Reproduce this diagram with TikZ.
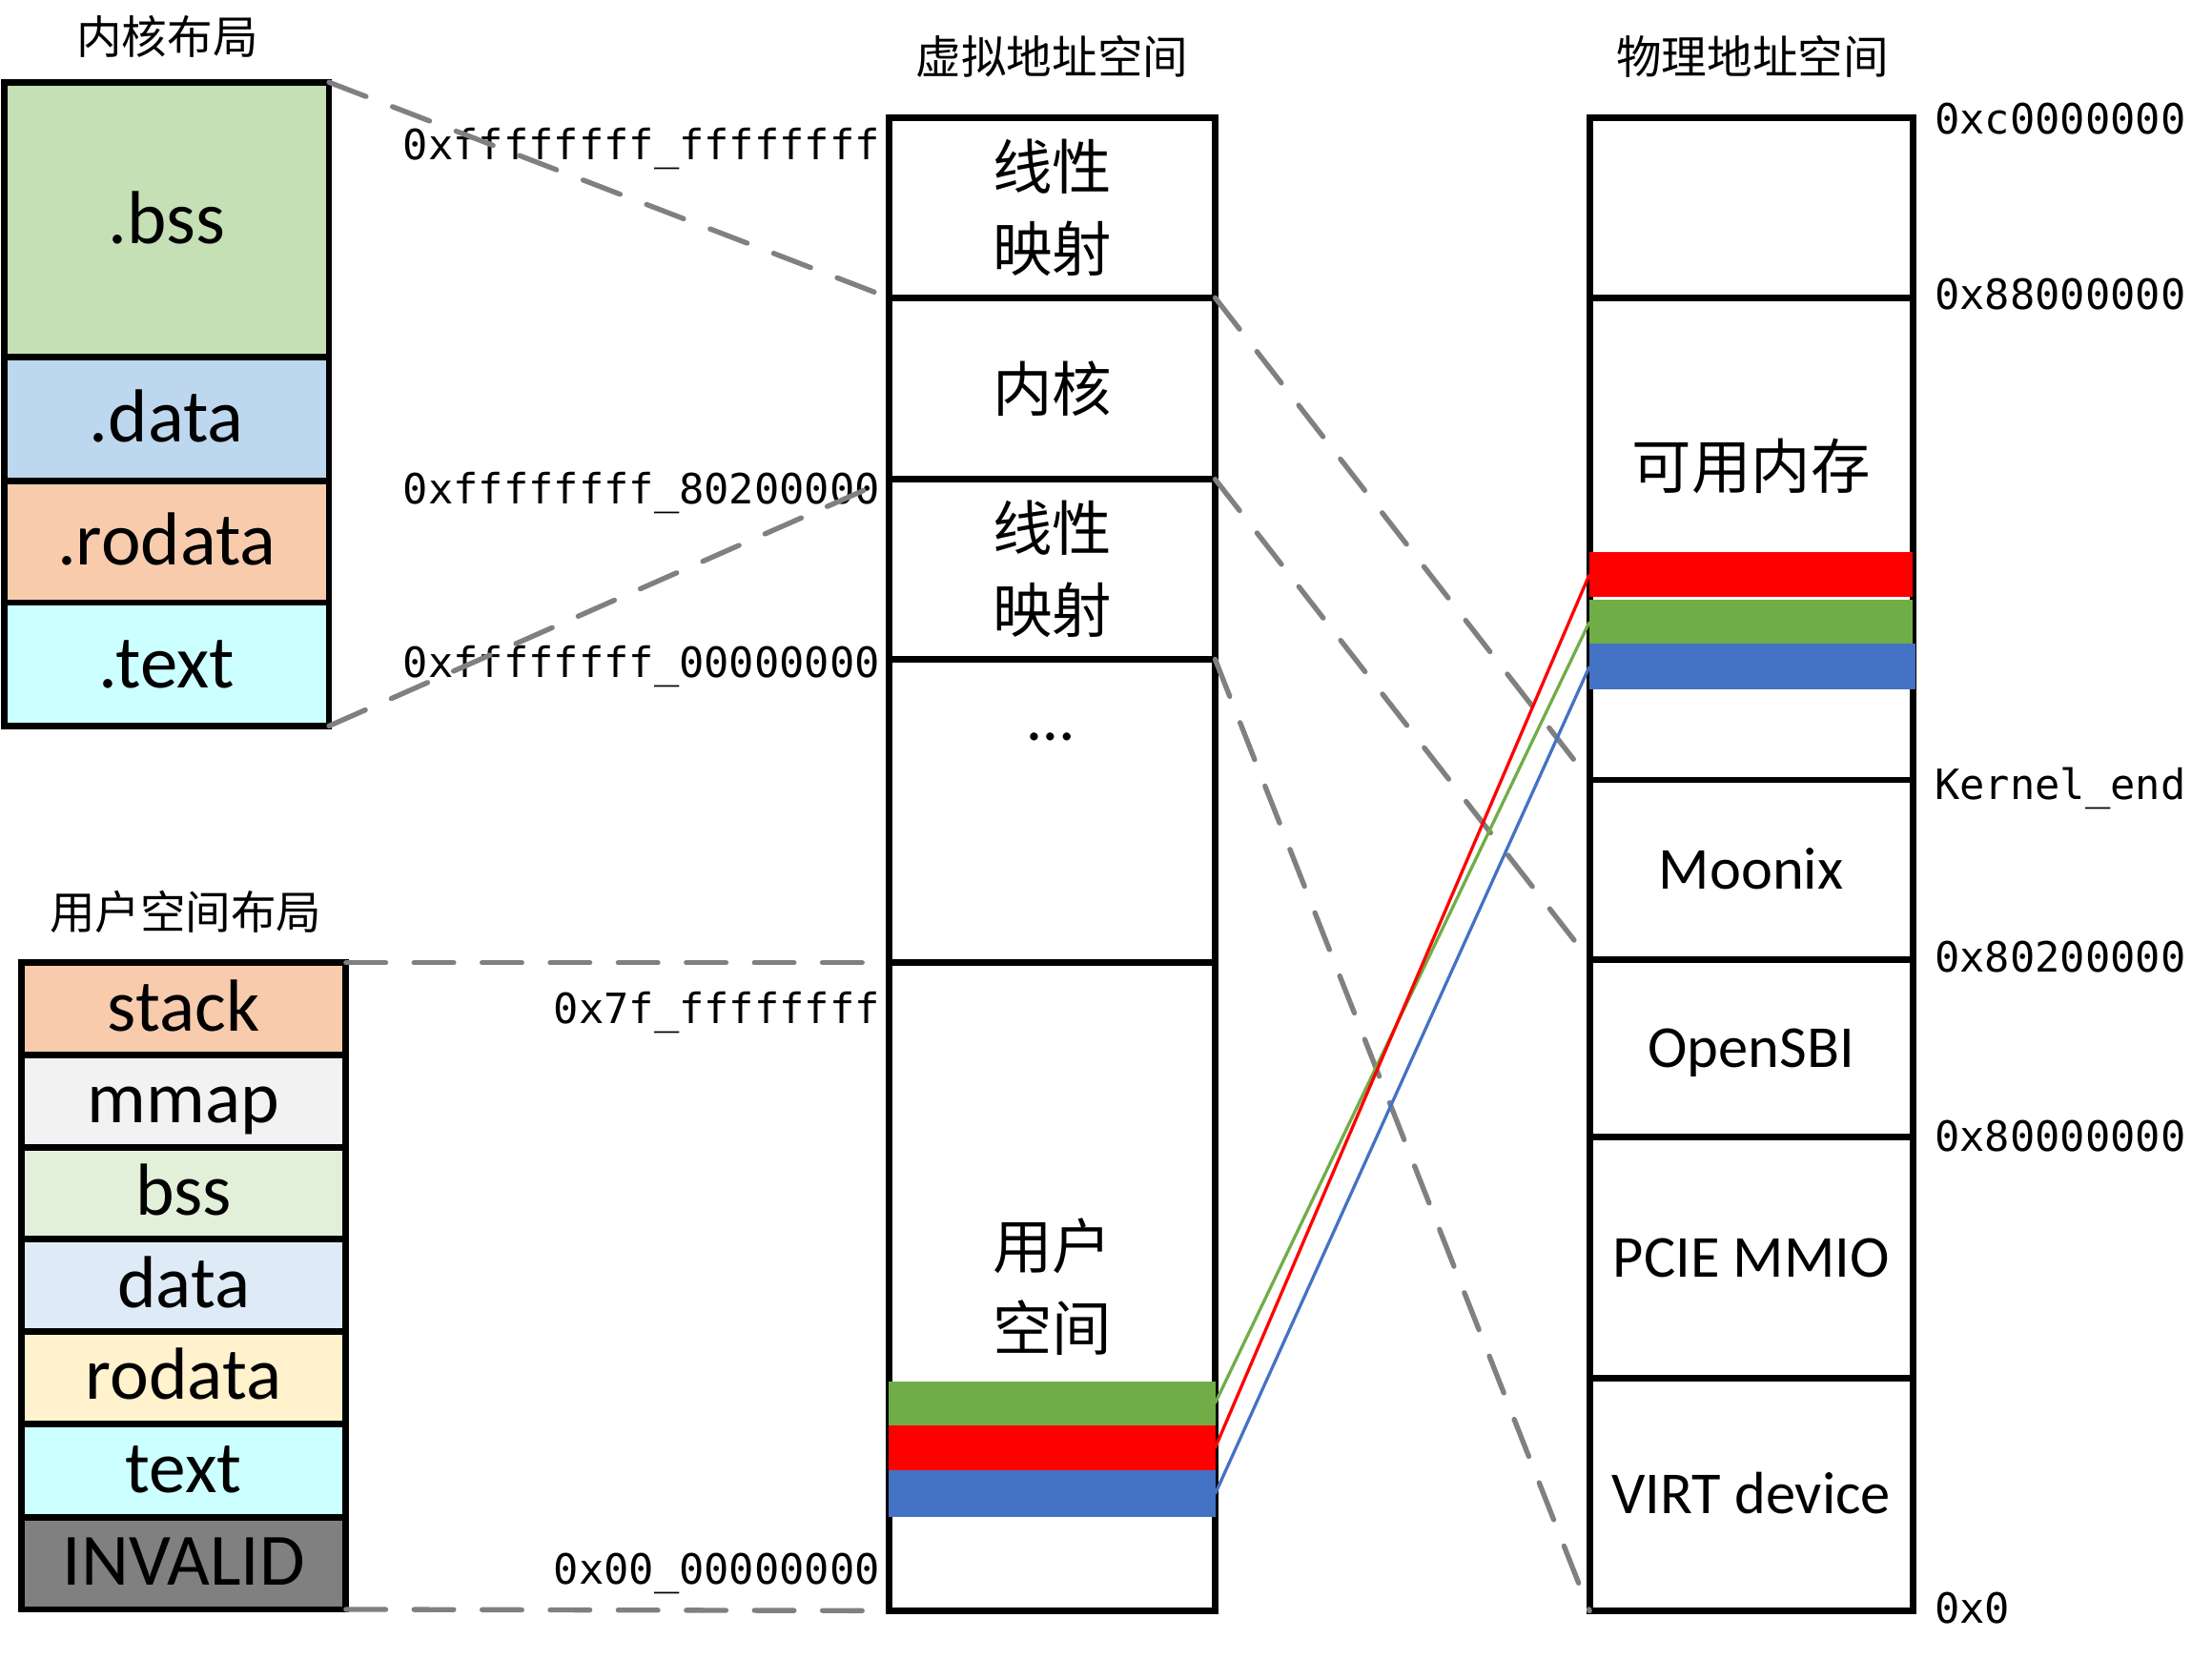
\documentclass[tikz,border=0pt]{standalone}
\usepackage{fontspec}
\setmainfont{Carlito}
\newfontfamily\cjk{Noto Sans CJK SC}
\newfontfamily\mono{DejaVu Sans Mono}

\definecolor{kbsscol}{HTML}{C5E0B4}
\definecolor{kdatacol}{HTML}{BDD7EE}
\definecolor{krodatacol}{HTML}{F8CBAD}
\definecolor{ktextcol}{HTML}{CCFFFF}
\definecolor{ustackcol}{HTML}{F8CBAD}
\definecolor{ummapcol}{HTML}{F2F2F2}
\definecolor{ubsscol}{HTML}{E2F0D9}
\definecolor{udatacol}{HTML}{DEEBF7}
\definecolor{urodatacol}{HTML}{FFF2CC}
\definecolor{utextcol}{HTML}{CCFFFF}
\definecolor{uinvalidcol}{HTML}{808080}
\definecolor{bandgreen}{HTML}{70AD47}
\definecolor{bandred}{HTML}{FF0000}
\definecolor{bandblue}{HTML}{4472C4}
\definecolor{mapgray}{HTML}{808080}

\tikzset{
  cell/.style={draw=black, line width=2.3pt, outer sep=0pt, inner sep=0pt},
  ksec/.style={font=\fontsize{26.5}{26.5}\selectfont, text height=20pt, text depth=3.5pt},
  usec/.style={font=\fontsize{26}{26}\selectfont, text height=19pt, text depth=3.5pt},
  psec/.style={font=\fontsize{21}{21}\selectfont, text height=16pt, text depth=2.5pt},
  cjkbig/.style={font=\cjk\fontsize{21}{29}\selectfont, align=center},
  band/.style={inner sep=0pt, outer sep=0pt, minimum height=#1},
  addr/.style={font=\mono\fontsize{14.7}{16}\selectfont, inner sep=0pt, text height=10.7pt, text depth=0pt},
  title/.style={font=\cjk\fontsize{16}{18}\selectfont},
  map/.style={draw=mapgray, line width=1.8pt, dash pattern=on 14pt off 10pt, line cap=round},
  link/.style={line width=1.1pt},
}

\begin{document}
\begin{tikzpicture}[x=0.5pt, y=-0.5pt]

\useasboundingbox (0,0) rectangle (1560,1170);

% KERNEL LAYOUT
  \node[title] (ktitle) at (118,26) {内核布局};
  \node[cell, minimum width=114.5pt, minimum height=97pt,   fill=kbsscol,    ksec] (kbss)    at (117.5,155)   {.bss};
  \node[cell, minimum width=114.5pt, minimum height=43.5pt, fill=kdatacol,   ksec] (kdata)   at (117.5,295.5) {.data};
  \node[cell, minimum width=114.5pt, minimum height=43pt,   fill=krodatacol, ksec] (krodata) at (117.5,382)   {.rodata};
  \node[cell, minimum width=114.5pt, minimum height=43.5pt, fill=ktextcol,   ksec] (ktext)   at (117.5,468.5) {.text};

% USER LAYOUT
  \node[title] (utitle) at (131,643) {用户空间布局};
  \node[cell, minimum width=114.5pt, minimum height=32.5pt, fill=ustackcol,   usec] (ustack)   at (129.5,711.5)  {stack};
  \node[cell, minimum width=114.5pt, minimum height=32.5pt, fill=ummapcol,    usec] (ummap)    at (129.5,776.5)  {mmap};
  \node[cell, minimum width=114.5pt, minimum height=32.5pt, fill=ubsscol,     usec] (ubss)     at (129.5,841.5)  {bss};
  \node[cell, minimum width=114.5pt, minimum height=32.5pt, fill=udatacol,    usec] (udata)    at (129.5,906.5)  {data};
  \node[cell, minimum width=114.5pt, minimum height=32.5pt, fill=urodatacol,  usec] (urodata)  at (129.5,971.5)  {rodata};
  \node[cell, minimum width=114.5pt, minimum height=33pt,   fill=utextcol,    usec] (utext)    at (129.5,1037)   {text};
  \node[cell, minimum width=114.5pt, minimum height=32.5pt, fill=uinvalidcol, usec] (uinvalid) at (129.5,1102.5) {INVALID};

% VIRTUAL ADDRESS SPACE
  \node[title] (vtitle) at (742,40) {虚拟地址空间};
  \node[cell, minimum width=115pt, minimum height=63.5pt, cjkbig] (vlin1) at (742,146.5) {线性\\映射};
  \node[cell, minimum width=115pt, minimum height=64pt,   cjkbig] (vkern) at (742,274)   {内核};
  \node[cell, minimum width=115pt, minimum height=63.5pt, cjkbig] (vlin2) at (742,401.5) {线性\\映射};
  \node[cell, minimum width=115pt, minimum height=107pt]          (vdots) at (742,572)   {};
  \node[font=\fontsize{23}{23}\selectfont] (vdotstext) at (741,520) {…};
  \node[cell, minimum width=115pt, minimum height=228.5pt, cjkbig] (vuser) at (742,907.5) {用户\\空间};

  \node[band=15.5pt, minimum width=115pt, fill=bandgreen] (vgreen) at (742,989.5)  {};
  \node[band=16pt,   minimum width=115pt, fill=bandred]   (vred)   at (742,1021)   {};
  \node[band=16.5pt, minimum width=115pt, fill=bandblue]  (vblue)  at (742,1053.5) {};

% PHYSICAL ADDRESS SPACE
  \node[title] (ptitle) at (1236,40) {物理地址空间};
  \node[cell, minimum width=114pt, minimum height=63.5pt]       (ptop)     at (1235,146.5) {};
  \node[cell, minimum width=114pt, minimum height=170pt]        (pavail)   at (1235,380)   {};
  \node[font=\cjk\fontsize{21}{21}\selectfont] (pavailtext) at (1235,329) {可用内存};
  \node[cell, minimum width=114pt, minimum height=63.5pt, psec] (pmoonix)  at (1235,613.5) {Moonix};
  \node[cell, minimum width=114pt, minimum height=62.5pt, psec] (popensbi) at (1235,739.5) {OpenSBI};
  \node[cell, minimum width=114pt, minimum height=85pt,   psec] (ppcie)    at (1235,887)   {PCIE MMIO};
  \node[cell, minimum width=114pt, minimum height=82pt,   psec] (pvirt)    at (1235,1054)  {VIRT device};

  \node[band=16pt,   minimum width=114pt, fill=bandred]   (pred)   at (1235,405)   {};
  \node[band=15.5pt, minimum width=114pt, fill=bandgreen] (pgreen) at (1235,438.5) {};
  \node[band=16pt,   minimum width=115pt, fill=bandblue]  (pblue)  at (1236,470)   {};

% ADDRESSES
  \node[addr, anchor=east] (vffff) at (621,102)    {0xffffffff\_ffffffff};
  \node[addr, anchor=east] (v8020) at (621,345)    {0xffffffff\_80200000};
  \node[addr, anchor=east] (v0000) at (621,467)    {0xffffffff\_00000000};
  \node[addr, anchor=east] (v7fff) at (621,711)    {0x7f\_ffffffff};
  \node[addr, anchor=east] (v0)    at (621,1106.5) {0x00\_00000000};

  \node[addr, anchor=west] (pc000) at (1364,83.5)  {0xc0000000};
  \node[addr, anchor=west] (p8800) at (1364,207.5) {0x88000000};
  \node[addr, anchor=west] (pkend) at (1364,553)   {Kernel\_end};
  \node[addr, anchor=west] (p8020) at (1364,675)   {0x80200000};
  \node[addr, anchor=west] (p8000) at (1364,801.5) {0x80000000};
  \node[addr, anchor=west] (p0)    at (1364,1134)  {0x0};

% MAPPINGS
  \draw[map] (kbss.north east)     -- (vlin1.south west);
  \draw[map] (ktext.south east)    -- (vlin2.north west);
  \draw[map] (ustack.north east)   -- (vuser.north west);
  \draw[map] (uinvalid.south east) -- (vuser.south west);

  \draw[map] (vkern.north east) -- (pavail.south west);
  \draw[map] (vkern.south east) -- (pmoonix.south west);
  \draw[map] (vlin2.south east) -- (pvirt.south west);

  \draw[link, draw=bandgreen] (vgreen.east) -- (pgreen.west);
  \draw[link, draw=bandred]   (vred.east)   -- (pred.west);
  \draw[link, draw=bandblue]  (vblue.east)  -- (pblue.west);

\end{tikzpicture}
\end{document}
